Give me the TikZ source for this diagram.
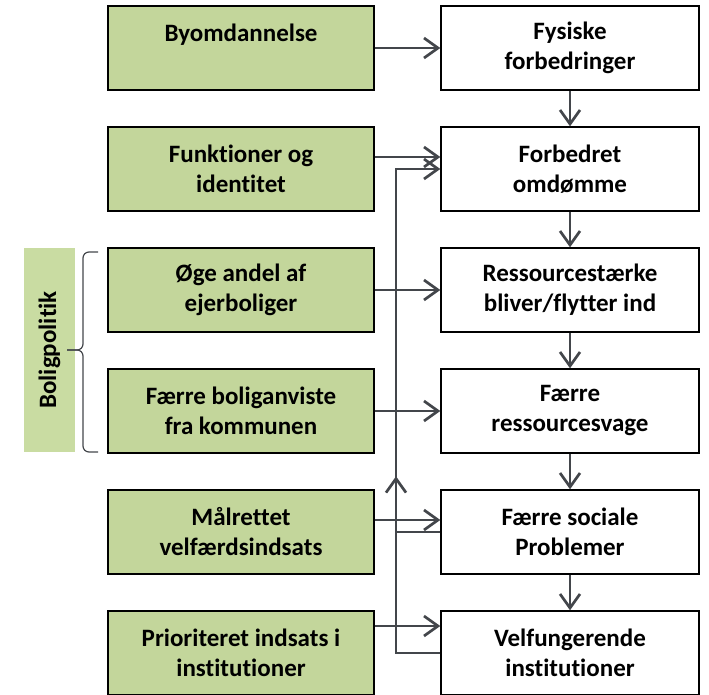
\documentclass[tikz,border=0pt]{standalone}
\usepackage{fontspec}
\setmainfont[Ligatures=NoCommon]{Carlito}
\usetikzlibrary{arrows.meta,decorations.markings}
\definecolor{boxgreen}{HTML}{C3D69B}
\definecolor{labelgreen}{HTML}{C9DCA2}
\definecolor{arrowgrey}{HTML}{43464B}
\tikzset{
  box/.style={draw=black, line width=1.4pt, align=center, inner sep=0pt,
    minimum height=84pt, font=\fontsize{25}{30}\selectfont\bfseries},
  causebox/.style={box, fill=boxgreen, minimum width=266pt},
  effectbox/.style={box, fill=white, minimum width=258pt},
  flow/.style={draw=arrowgrey, line width=2.7pt, -{Straight Barb[length=14pt,width=20pt]}},
  link/.style={draw=arrowgrey, line width=2.7pt},
  bracket/.style={draw=arrowgrey, line width=1.2pt, rounded corners=6pt}
}
\begin{document}
\begin{tikzpicture}[x=1pt, y=1pt, node distance=121pt]
  \useasboundingbox (0,0) rectangle (709,-695);
  % causes (left column)
  \node[causebox] (by) at (241,-48) {Byomdannelse\\ \mbox{}};
  \node[causebox] (fu) [below of=by] {Funktioner og\\identitet};
  \node[causebox] (eje) [below of=fu] {Øge andel af\\ejerboliger};
  \node[causebox] (anv) [below of=eje] {Færre boliganviste\\fra kommunen};
  \node[causebox] (vel) [below of=anv] {Målrettet\\velfærdsindsats};
  \node[causebox] (ins) [below of=vel] {Prioriteret indsats i\\institutioner};
  % effects (right column)
  \node[effectbox] (fys) [right of=by, node distance=329pt] {Fysiske\\forbedringer};
  \node[effectbox] (omd) [below of=fys] {Forbedret\\omdømme};
  \node[effectbox] (res) [below of=omd] {Ressourcestærke\\bliver/flytter ind};
  \node[effectbox] (sva) [below of=res] {Færre\\ressourcesvage};
  \node[effectbox] (soc) [below of=sva] {Færre sociale\\Problemer};
  \node[effectbox] (vin) [below of=soc] {Velfungerende\\institutioner};
  % label and brace
  \node[fill=labelgreen, rotate=90, minimum width=204pt, minimum height=51pt, inner sep=0pt,
    font=\fontsize{25}{30}\selectfont\bfseries] (pol) at (49.5,-350) {Boligpolitik};
  \coordinate (tip) at (67,-350);
  \draw[bracket] (98,-252) -- (83,-252) -- (83,-350) -- (tip);
  \draw[bracket] (98,-452) -- (83,-452) -- (83,-350) -- (tip);
  % chain
  \draw[flow] (fys) -- (omd);
  \draw[flow] (omd) -- (res);
  \draw[flow] (res) -- (sva);
  \draw[flow] (sva) -- (soc);
  \draw[flow] (soc) -- (vin);
  % inputs
  \draw[flow] (by) -- (fys);
  \draw[flow] ([yshift=12pt]fu.east) -- ([yshift=12pt]omd.west);
  \draw[flow] (eje) -- (res);
  \draw[flow] (anv) -- (sva);
  \draw[flow] ([yshift=12pt]vel.east) -- ([yshift=12pt]soc.west);
  \draw[flow] ([yshift=27pt]ins.east) -- ([yshift=27pt]vin.west);
  % feedback
  \coordinate (bus) at (396,0);
  \draw[flow, postaction={decorate}, decoration={markings,
      mark=at position 221pt with {\arrow{Straight Barb[length=14pt,width=20pt]}}}]
    (vin.west) -- (vin.west -| bus) -- (omd.west -| bus) -- (omd.west);
  \draw[link] (soc.west) -- (soc.west -| bus);
\end{tikzpicture}
\end{document}
